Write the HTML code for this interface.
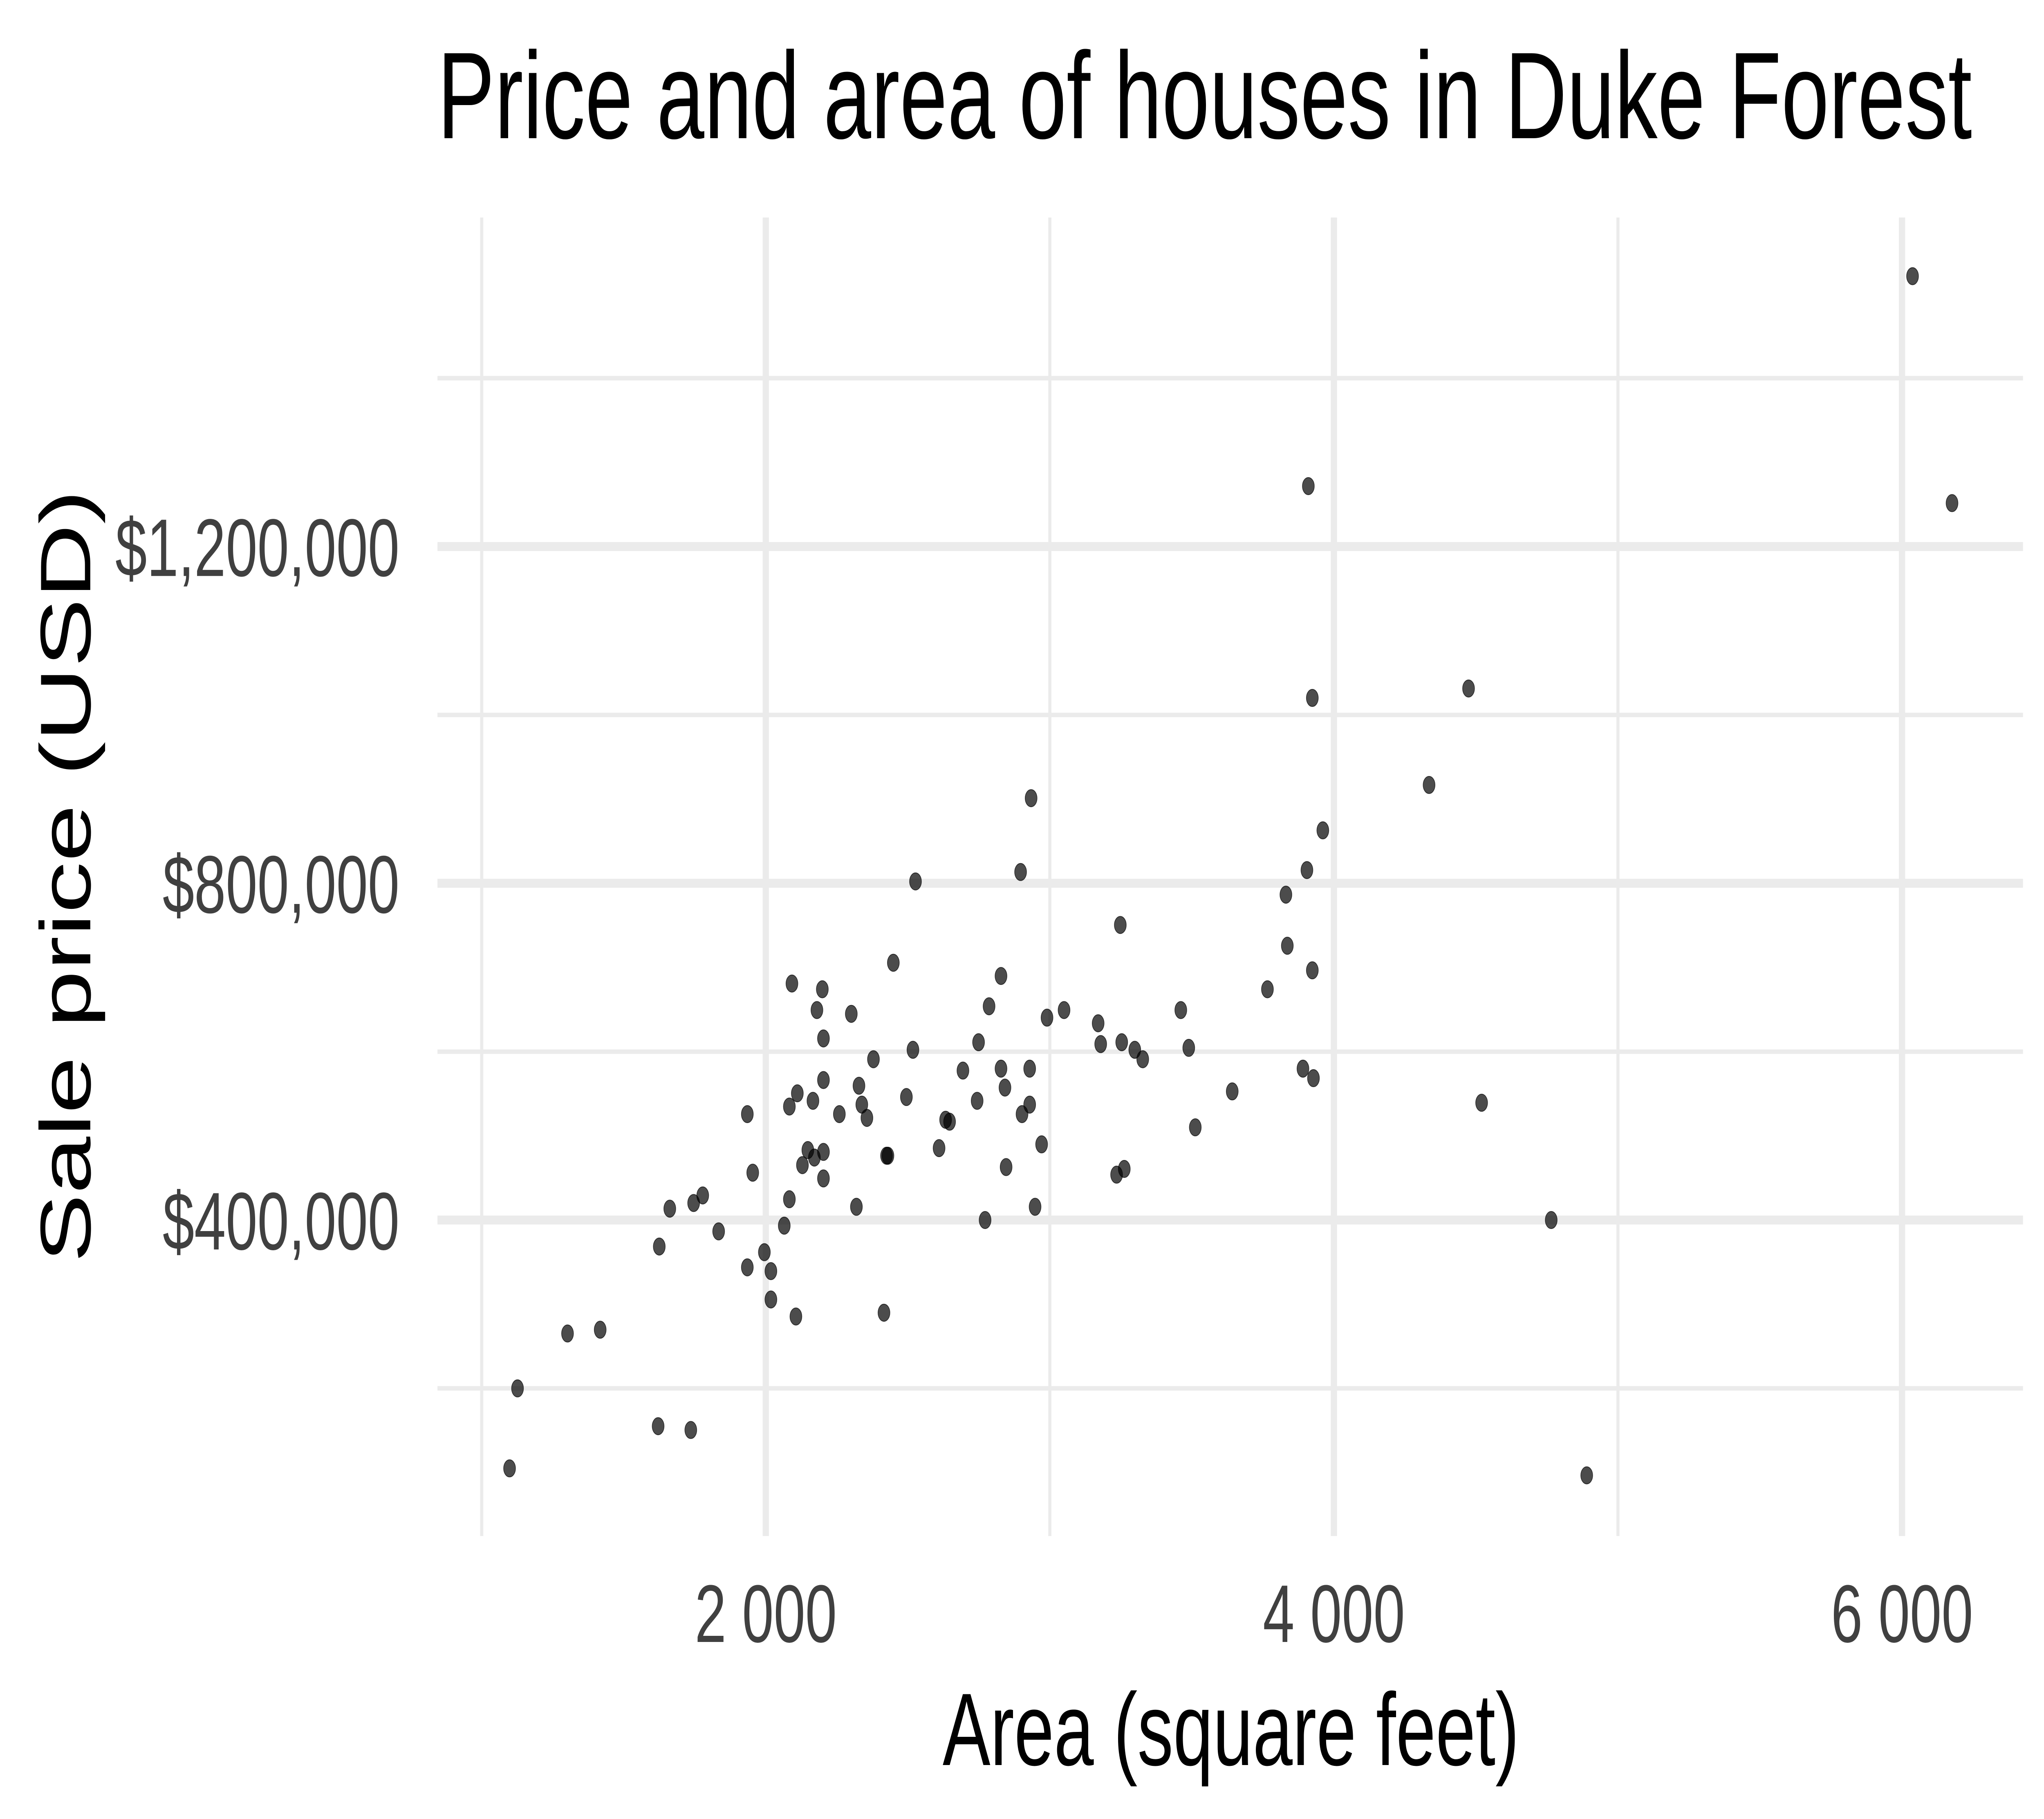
<!DOCTYPE html>
<html><head><meta charset="utf-8"><style>
html,body{margin:0;padding:0;background:#fff;width:100%;height:100%;overflow:hidden;}
svg{display:block;width:100vw;height:100vh;font-family:"Liberation Sans",Arial,sans-serif;}
</style></head><body>
<svg id="chart" viewBox="0 0 7200 4449" preserveAspectRatio="none" xmlns="http://www.w3.org/2000/svg">
<rect width="7200" height="4449" fill="#fff"/>
<g id="grid"></g>
<g id="ticks"></g>
<g id="points"></g>
<text x="1541" y="338" font-size="302" fill="#000">Price and area of houses in Duke Forest</text>
<text x="4336" y="4317" font-size="252" fill="#000" text-anchor="middle">Area (square feet)</text>
<text transform="translate(318,2143) rotate(-90)" font-size="252" fill="#000" text-anchor="middle">Sale price (USD)</text>
</svg>
<script>
const areas = [1098,1126,1302,1417,1621,1736,1625,1662,1746,1778,1834,1935,1935,1954,1995,2018,2018,2065,2083,2083,2092,2106,2111,2129,2148,2166,2171,2180,2199,2203,2203,2203,2203,2259,2301,2319,2328,2338,2356,2379,2416,2425,2430,2449,2495,2518,2527,2610,2633,2647,2694,2744,2749,2772,2786,2828,2828,2842,2846,2897,2902,2929,2929,2948,2934,2971,2990,3050,3170,3179,3235,3248,3253,3262,3299,3327,3461,3489,3512,3642,3766,3831,3836,3891,3905,3910,3924,3928,3924,3961,4335,4474,4520,4765,4890,6037,6176];
const prices = [105000,200000,265200,269700,155100,150600,368500,413500,420200,429200,386500,525800,343800,456200,361800,339300,305600,393300,534800,424700,680900,285400,550500,465200,483100,541600,474200,649400,674100,615700,566300,480900,449400,525800,644900,415700,559500,537100,521300,591000,289900,476400,476400,705600,546100,602200,802200,485400,519100,516800,577500,541600,611200,400000,653900,689900,579800,557300,462900,813400,525800,579800,537100,415700,901100,489900,640400,649400,633700,609000,453900,750500,611200,460700,602200,591000,649400,604500,510100,552800,674100,786500,725800,579800,815700,1271800,696600,568500,1020200,862900,916800,1031400,539300,400000,96700,1521200,1251600];
const xMajor = [2000,4000,6000];
const xMinor = [1000,3000,5000];
const xTickLabels = ["2 000","4 000","6 000"];
const yMajor = [400000,800000,1200000];
const yMinor = [200000,600000,1000000,1400000];
const yTickLabels = ["$400,000","$800,000","$1,200,000"];

const NS="http://www.w3.org/2000/svg";
const PL=1541, PR=7126, PT=532, PB=3757;
function xScale(v){return 2697.5+(v-2000)*1.0006;}
function yScale(v){return 2984-(v-400000)*0.002059;}
function mk(tag,attrs){const e=document.createElementNS(NS,tag);for(const k in attrs)e.setAttribute(k,attrs[k]);return e;}
const grid=document.getElementById('grid'),ticks=document.getElementById('ticks'),pts=document.getElementById('points');
xMinor.forEach(v=>{const l=mk('line',{x1:xScale(v),x2:xScale(v),y1:PT,y2:PB,stroke:'#ebebeb','stroke-width':11});


grid.appendChild(l);});
yMinor.forEach(v=>{const l=mk('line',{x1:PL,x2:PR,y1:yScale(v),y2:yScale(v),stroke:'#ebebeb','stroke-width':11});


grid.appendChild(l);});
xMajor.forEach((v,i)=>{const l=mk('line',{x1:xScale(v),x2:xScale(v),y1:PT,y2:PB,stroke:'#ebebeb','stroke-width':22});


grid.appendChild(l);
const t=mk('text',{x:xScale(v),y:4016,'font-size':200,fill:'#404040','text-anchor':'middle'});t.textContent=xTickLabels[i];


ticks.appendChild(t);});
yMajor.forEach((v,i)=>{const l=mk('line',{x1:PL,x2:PR,y1:yScale(v),y2:yScale(v),stroke:'#ebebeb','stroke-width':22});


grid.appendChild(l);
const t=mk('text',{x:1407,y:yScale(v)+72,'font-size':200,fill:'#404040','text-anchor':'end'});t.textContent=yTickLabels[i];


ticks.appendChild(t);});
areas.forEach((a,i)=>{const c=mk('circle',{cx:xScale(a),cy:yScale(prices[i]),r:21,fill:'#000','fill-opacity':0.7,stroke:'#000','stroke-opacity':0.7,'stroke-width':2});


pts.appendChild(c);});
</script>
</body></html>
